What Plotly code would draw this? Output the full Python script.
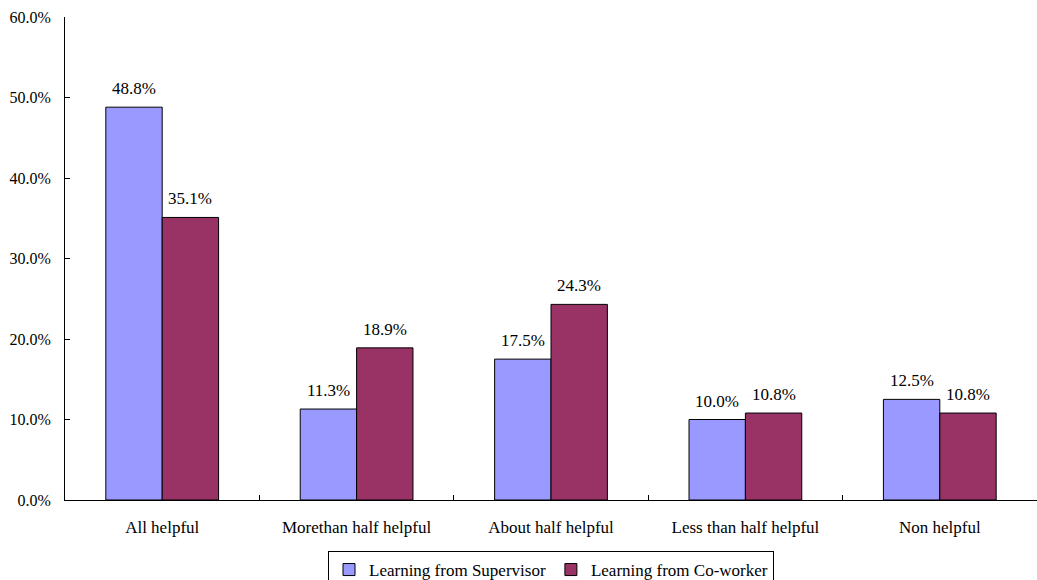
import plotly.graph_objects as go

categories = ["All helpful", "Morethan half helpful", "About half helpful",
              "Less than half helpful", "Non helpful"]
supervisor = [48.8, 11.3, 17.5, 10.0, 12.5]
coworker = [35.1, 18.9, 24.3, 10.8, 10.8]
series_names = ["Learning from Supervisor", "Learning from Co-worker"]
colors = ["#9999FF", "#993366"]

FONT = "Liberation Serif"
FS = 17

fig = go.Figure()
for name, vals, col in zip(series_names, [supervisor, coworker], colors):
    fig.add_trace(go.Bar(
        x=categories, y=vals, name=name,
        marker=dict(color=col, line=dict(color="black", width=1)),
    ))

# data labels placed above each bar
bar_px = (1037 - 65) / len(categories) * (1 - 0.42) / 2
for k, vals in enumerate([supervisor, coworker]):
    shift = (k - 0.5) * bar_px
    for c, v in zip(categories, vals):
        fig.add_annotation(x=c, y=v, xref="x", yref="y", text=f"{v:.1f}%",
                           showarrow=False, xshift=shift, yshift=7,
                           yanchor="bottom", xanchor="center",
                           font=dict(family=FONT, size=FS, color="black"))

fig.update_layout(
    width=1037, height=580,
    margin=dict(l=65, r=0, t=17, b=80),
    paper_bgcolor="white", plot_bgcolor="white",
    barmode="group", bargap=0.42, bargroupgap=0,
    font=dict(family=FONT, size=FS, color="black"),
    showlegend=True,
    legend=dict(orientation="h", x=0.5, xanchor="center",
                yref="container", y=29 / 580, yanchor="top",
                bordercolor="black", borderwidth=1, font=dict(family=FONT, size=FS),
                itemwidth=30, tracegroupgap=0),
)
fig.update_xaxes(showline=True, linecolor="black", linewidth=1, automargin=False,
                 ticks="inside", ticklen=5, tickcolor="black", tickson="boundaries",
                 ticklabelstandoff=12,
                 showgrid=False, tickfont=dict(family=FONT, size=FS))
fig.update_yaxes(range=[0, 60], dtick=10, tickformat=".1f", ticksuffix="%",
                 showline=True, linecolor="black", linewidth=1, automargin=False,
                 ticks="inside", ticklen=5, tickcolor="black", ticklabelstandoff=10,
                 showgrid=False, zeroline=False, tickfont=dict(family=FONT, size=16))

fig.write_html("out.html", config={"displayModeBar": False},
               post_script="document.body.style.margin='0';")
